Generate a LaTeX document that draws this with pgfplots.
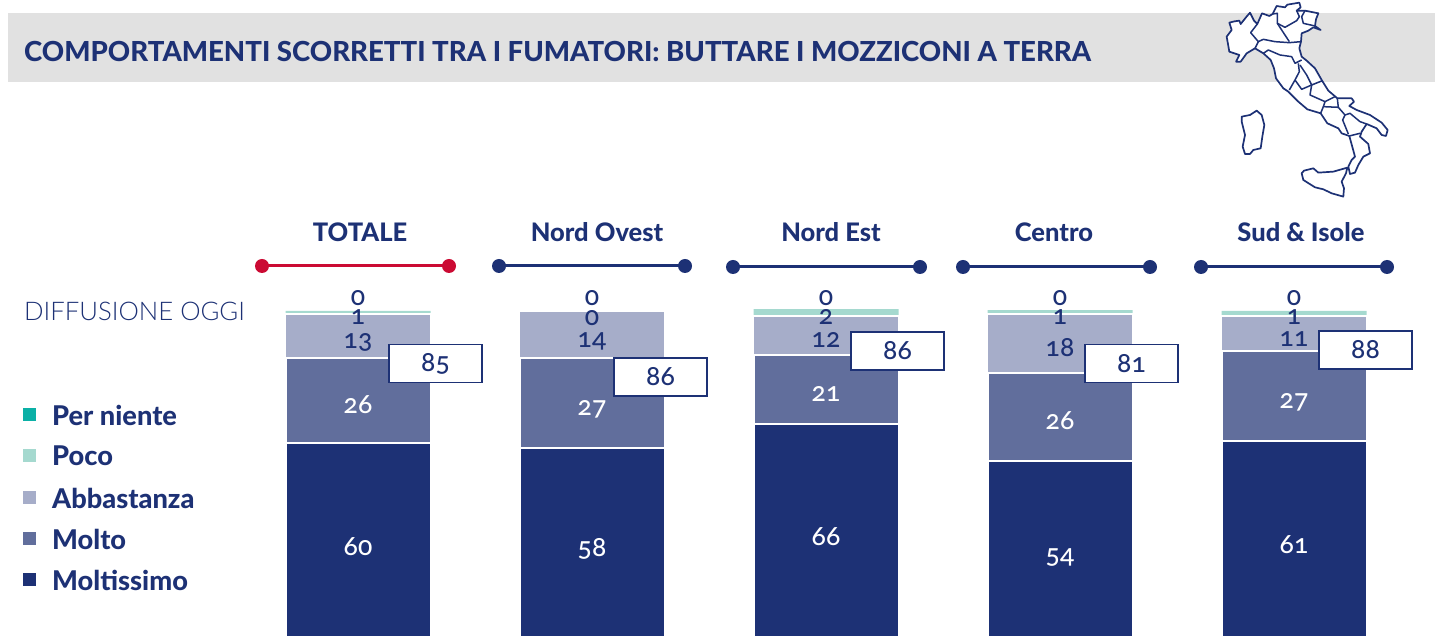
\documentclass[border=0pt]{standalone}
\usepackage{pgfplots}
\pgfplotsset{compat=1.18}
\usepackage{pgfplotstable}
\usepackage{fontspec}
\setmainfont{Lato}[Numbers=OldStyle]
\newfontfamily\lightfont{Lato Light}
\newfontfamily\numfont{Lato Medium}[Numbers=OldStyle]
\newfontfamily\heavyfont{Lato Heavy}
\definecolor{navy}{HTML}{1D3175}
\definecolor{molto}{HTML}{616E9C}
\definecolor{abba}{HTML}{A6ADC9}
\definecolor{poco}{HTML}{A5D9CF}
\definecolor{perni}{HTML}{0BB0A6}
\definecolor{redx}{HTML}{CB0A33}
\definecolor{band}{HTML}{E1E1E1}
\pgfplotstableread{
x moltissimo molto abbastanza poco perniente
358 60.0 25.8 13.3 0.9 0
592 58.5 27.3 14.0 0.0 0
826 65.8 20.9 11.8 2.1 0
1060 54.5 26.7 17.9 1.2 0
1294 60.6 27.3 10.6 1.5 0
}\bars
\pgfplotstableread{
x y label
358 103.8 0
592 103.8 0
826 103.8 0
1060 103.8 0
1294 103.8 0
358 98.2 1
592 98.0 0
826 98.2 2
1060 98.2 1
1294 98.2 1
358 90.6 13
592 90.9 14
826 91.2 12
1060 88.8 18
1294 91.5 11
}\navylabels
\pgfplotstableread{
x y label
358 71.5 26
592 70.3 27
826 74.9 21
1060 66.9 26
1294 72.4 27
358 28.5 60
592 27.9 58
826 31.7 66
1060 25.2 54
1294 29.1 61
}\whitelabels
\pgfplotstableread{
x y label
435.5 84.0 85
660.5 80.0 86
897.5 87.9 86
1131.5 84.0 81
1365.5 88.2 88
}\boxlabels
\pgfplotsset{base/.style={
  at={(0,0)},anchor=south west,scale only axis,width=1435pt,height=637pt,
  xmin=0,xmax=1435,ymin=1.212,ymax=194.242,hide axis}}
\begin{document}
\begin{tikzpicture}[x=1pt,y=1pt]
\path[use as bounding box] (0,0) rectangle (1435,637);
\fill[band] (8,555) rectangle (1435,624);
\begin{axis}[base,ybar stacked,bar width=145pt]
\addplot[fill=navy,draw=white,line width=2pt] table[x=x,y=moltissimo]{\bars};
\addplot[fill=molto,draw=white,line width=2pt] table[x=x,y=molto]{\bars};
\addplot[fill=abba,draw=white,line width=1.5pt] table[x=x,y=abbastanza]{\bars};
\addplot[fill=poco,draw=none] table[x=x,y=poco]{\bars};
\addplot[fill=perni,draw=none] table[x=x,y=perniente]{\bars};
\end{axis}
\begin{axis}[base,clip=false,
  nodes near coords,point meta=explicit symbolic,
  every node near coord/.append style={anchor=center,inner sep=0pt,font=\fontsize{26.5}{26.5}\selectfont\numfont}]
\addplot[draw=none,mark=none,every node near coord/.append style={text=navy}] table[x=x,y=y,meta=label]{\navylabels};
\addplot[draw=none,mark=none,every node near coord/.append style={text=white}] table[x=x,y=y,meta=label]{\whitelabels};
\addplot[draw=none,mark=none,every node near coord/.append style={text=navy,fill=white,draw=navy,line width=1.3pt,minimum width=93pt,minimum height=38pt}] table[x=x,y=y,meta=label]{\boxlabels};
\end{axis}
\begin{scope}[yshift=637pt,y=-1pt]
% title
\node[anchor=west,inner sep=0pt,text=navy,font=\fontsize{27.6}{27}\selectfont\heavyfont] at (24,51) {COMPORTAMENTI SCORRETTI TRA I FUMATORI: BUTTARE I MOZZICONI A TERRA};
% column heads
\foreach \cx/\t in {360/TOTALE,597/Nord Ovest,831/Nord Est,1054/Centro,1301/Sud \& Isole}
  \node[inner sep=0pt,text=navy,font=\fontsize{25.5}{25}\selectfont\heavyfont] at (\cx,232) {\t};
\foreach \a/\b/\yy/\c in {262/449/266/redx,499/685/266/navy,733/920/267/navy,963/1150/267/navy,1201/1387/267/navy}{
  \draw[\c,line width=3pt] (\a,\yy)--(\b,\yy);
  \fill[\c] (\a,\yy) circle (7);
  \fill[\c] (\b,\yy) circle (7);
}
\node[anchor=west,inner sep=0pt,text=navy,font=\fontsize{25.7}{25}\selectfont\lightfont] at (24,311) {DIFFUSIONE OGGI};
% legend
\foreach \yy/\c/\t in {415/perni/Per niente,456/poco/Poco,498/abba/Abbastanza,539/molto/Molto,580/navy/Moltissimo}{
  \fill[\c] (23,\yy-6.5) rectangle (36,\yy+6.5);
  \node[anchor=west,inner sep=0pt,text=navy,font=\fontsize{27.2}{25}\selectfont\heavyfont] at (52,\yy) {\t};
}
% map
\begin{scope}[shift={(1200,0)},x=0.3333pt,line join=round]
\begin{scope}[y=-0.3333pt]
\path[fill=white,draw=navy,line width=1.7pt] (88,68)--(104,64)--(118,62)--(122,72)--(138,52)--(150,38)--(162,62)--(172,72)--(186,40)--(208,48)--(218,42)--(230,18)--(255,22)--(262,14)--(298,8)--(302,22)--(290,32)--(315,32)--(355,40)--(348,58)--(345,78)--(362,90)--(340,82)--(325,92)--(305,100)--(303,125)--(298,145)--(305,170)--(320,182)--(345,205)--(365,240)--(385,272)--(412,295)--(455,295)--(462,305)--(448,318)--(470,330)--(510,345)--(545,368)--(563,390)--(558,408)--(545,405)--(530,385)--(500,372)--(485,395)--(480,410)--(505,432)--(510,460)--(490,470)--(475,495)--(465,518)--(450,522)--(445,500)--(455,480)--(465,470)--(448,408)--(425,400)--(415,385)--(382,370)--(362,340)--(322,328)--(295,305)--(265,275)--(250,265)--(228,235)--(222,205)--(212,180)--(190,160)--(165,145)--(140,160)--(122,185)--(108,185)--(118,165)--(88,155)--(80,110)--(95,90)--cycle;
\path[fill=white,draw=navy,line width=1.7pt] (125,350)--(150,345)--(170,332)--(185,345)--(193,375)--(187,410)--(182,445)--(160,450)--(150,462)--(135,462)--(128,440)--(135,405)--(125,365)--cycle;
\path[fill=white,draw=navy,line width=1.7pt] (305,520)--(312,512)--(340,505)--(355,518)--(400,515)--(442,503)--(438,520)--(425,545)--(432,565)--(430,590)--(395,580)--(370,568)--(345,562)--(310,540)--cycle;
\draw[navy,line width=1.5pt] (172,72)--(152,98)--(175,125)--(165,145);
\draw[navy,line width=1.5pt] (218,42)--(232,40)--(232,70)--(245,90)--(268,125);
\draw[navy,line width=1.5pt] (175,125)--(190,118)--(225,125)--(268,128)--(303,125);
\draw[navy,line width=1.5pt] (190,160)--(205,150)--(240,165)--(275,170)--(285,190)--(305,180);
\draw[navy,line width=1.5pt] (232,70)--(255,82)--(290,62)--(298,50)--(290,32);
\draw[navy,line width=1.5pt] (315,32)--(305,50)--(310,70)--(345,78);
\draw[navy,line width=1.5pt] (295,190)--(298,215)--(285,240)--(268,270);
\draw[navy,line width=1.5pt] (285,240)--(305,268)--(335,255)--(320,225)--(300,195);
\draw[navy,line width=1.5pt] (335,255)--(365,243);
\draw[navy,line width=1.5pt] (335,255)--(330,285)--(375,305)--(405,290);
\draw[navy,line width=1.5pt] (362,340)--(370,320)--(415,322)--(412,295);
\draw[navy,line width=1.5pt] (415,322)--(435,345)--(428,360)--(445,402);
\draw[navy,line width=1.5pt] (435,345)--(450,340)--(480,365)--(500,372);
\draw[navy,line width=1.5pt] (448,408)--(480,400);
\draw[navy,line width=1.5pt] (375,305)--(370,320);
\end{scope}
\end{scope}
\end{scope}
\end{tikzpicture}
\end{document}
